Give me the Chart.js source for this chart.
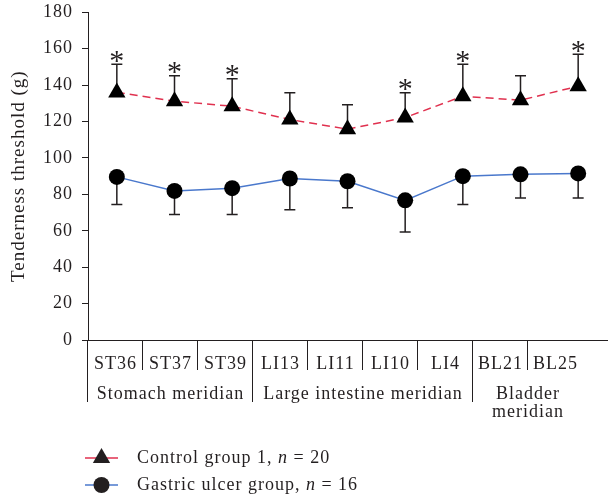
<!DOCTYPE html>
<html>
<head>
<meta charset="UTF-8">
<title>Tenderness threshold</title>
<script src="https://cdn.jsdelivr.net/npm/chart.js"></script>
<style>
  html, body { margin: 0; padding: 0; background: #fff; overflow: hidden; }
  #wrap { width: 611px; height: 498px; }
</style>
</head>
<body>
<div id="wrap"><canvas id="chart"></canvas></div>
<script>
// values (g)
const points = ['ST36', 'ST37', 'ST39', 'LI13', 'LI11', 'LI10', 'LI4', 'BL21', 'BL25'];
const groupNames = [['Stomach meridian'], ['Large intestine meridian'], ['Bladder', 'meridian']];
const groupSizes = [3, 4, 2];
const controlMean = [136, 131.2, 128.4, 121.1, 115.8, 122.2, 133.9, 131.7, 139.4];
const controlSD = [15.4, 13.9, 15.1, 14.7, 13.4, 13.6, 17.6, 13.4, 17.6];
const ulcerMean = [89.6, 81.9, 83.4, 88.7, 87.2, 76.7, 90, 91, 91.5];
const ulcerSD = [15.2, 12.9, 14.4, 17.2, 14.5, 17.4, 15.6, 13, 13.5];
const significant = [true, true, true, false, false, true, true, false, true];
const yTicks = [0, 20, 40, 60, 80, 100, 120, 140, 160, 180];

const serif = '"Liberation Serif", "Times New Roman", serif';
const ink = '#231f20';
const red = '#e0314f';
const blue = '#4a78cc';
const cellW = 55;

// wider set to get closer to the original typeface
const spacing = {
  id: 'spacing',
  beforeDraw(chart) { chart.ctx.letterSpacing = '1px'; }
};

// error bars (one-sided) and asterisks, drawn under the markers
const errorBars = {
  id: 'errorBars',
  beforeDatasetsDraw(chart) {
    const { ctx, scales: { x, y } } = chart;
    ctx.save();
    ctx.strokeStyle = ink;
    ctx.lineWidth = 1.5;
    points.forEach((p, i) => {
      const px = x.getPixelForValue(i);
      const top = y.getPixelForValue(controlMean[i] + controlSD[i]);
      const bot = y.getPixelForValue(ulcerMean[i] - ulcerSD[i]);
      ctx.beginPath();
      ctx.moveTo(px, y.getPixelForValue(controlMean[i]));
      ctx.lineTo(px, top);
      ctx.moveTo(px - 5.5, top);
      ctx.lineTo(px + 5.5, top);
      ctx.moveTo(px, y.getPixelForValue(ulcerMean[i]));
      ctx.lineTo(px, bot);
      ctx.moveTo(px - 5.5, bot);
      ctx.lineTo(px + 5.5, bot);
      ctx.stroke();
      if (significant[i]) {
        ctx.font = '30px ' + serif;
        ctx.letterSpacing = '0px';
        ctx.fillStyle = ink;
        ctx.textAlign = 'center';
        ctx.textBaseline = 'alphabetic';
        const m = ctx.measureText('*');
        const yc = top - 8;
        ctx.fillText('*', px, yc + (m.actualBoundingBoxAscent - m.actualBoundingBoxDescent) / 2);
      }
    });
    ctx.restore();
  }
};

// category table under the axis + legend
const tableAndLegend = {
  id: 'tableAndLegend',
  afterDraw(chart) {
    const { ctx, chartArea: { left, bottom } } = chart;
    ctx.save();
    ctx.letterSpacing = '1px';
    ctx.strokeStyle = ink;
    ctx.fillStyle = ink;
    ctx.lineWidth = 1;
    ctx.font = '18px ' + serif;
    ctx.textAlign = 'center';
    ctx.textBaseline = 'middle';

    const groupStarts = [];
    let acc = 0;
    groupSizes.forEach(n => { groupStarts.push(acc); acc += n; });

    for (let i = 0; i < points.length; i++) {
      const lx = Math.round(left + i * cellW) - 0.5;
      const isGroup = groupStarts.includes(i);
      ctx.beginPath();
      ctx.moveTo(lx, bottom);
      ctx.lineTo(lx, bottom + (isGroup ? 62 : 30));
      ctx.stroke();
      ctx.fillText(points[i], left + (i + 0.5) * cellW, bottom + 24);
    }
    groupNames.forEach((lines, g) => {
      const cx = left + (groupStarts[g] + groupSizes[g] / 2) * cellW;
      lines.forEach((t, k) => ctx.fillText(t, cx, bottom + 54 + k * 18));
    });

    // legend
    const items = [
      { ds: chart.data.datasets[0], text: ['Control group 1, ', 'n', ' = 20'] },
      { ds: chart.data.datasets[1], text: ['Gastric ulcer group, ', 'n', ' = 16'] }
    ];
    items.forEach((it, k) => {
      const ly = bottom + 118 + k * 27;
      ctx.beginPath();
      ctx.strokeStyle = it.ds.borderColor;
      ctx.lineWidth = 1.5;
      ctx.moveTo(left - 3, ly);
      ctx.lineTo(left + 30, ly);
      ctx.stroke();
      Chart.helpers.drawPoint(ctx, {
        pointStyle: it.ds.pointStyle,
        radius: it.ds.pointRadius,
        borderWidth: 0
      }, left + 13.5, ly);
      ctx.fillStyle = ink;
      let tx = left + 49;
      ctx.textAlign = 'left';
      it.text.forEach((s, j) => {
        ctx.font = (j === 1 ? 'italic ' : '') + '18px ' + serif;
        ctx.fillText(s, tx, ly);
        tx += ctx.measureText(s).width;
      });
    });
    ctx.restore();
  }
};

new Chart(document.getElementById('chart'), {
  type: 'line',
  data: {
    labels: points,
    datasets: [
      {
        label: 'Control group 1, n = 20',
        data: controlMean,
        borderColor: red,
        borderWidth: 1.5,
        borderDash: [8, 5],
        pointStyle: 'triangle',
        pointRadius: 10,
        pointBackgroundColor: '#000',
        pointBorderWidth: 0,
        tension: 0
      },
      {
        label: 'Gastric ulcer group, n = 16',
        data: ulcerMean,
        borderColor: blue,
        borderWidth: 1.5,
        pointStyle: 'circle',
        pointRadius: 8,
        pointBackgroundColor: '#000',
        pointBorderWidth: 0,
        tension: 0
      }
    ]
  },
  options: {
    responsive: true,
    maintainAspectRatio: false,
    animation: false,
    events: [],
    layout: { autoPadding: false, padding: { top: 0, right: 4, left: 0, bottom: 0 } },
    plugins: { legend: { display: false }, tooltip: { enabled: false } },
    scales: {
      x: {
        offset: true,
        grid: { display: false },
        ticks: { display: false },
        border: { color: ink, width: 1 },
        afterFit(scale) {
          scale.height = 158;
          scale.paddingLeft = 0;
          scale.paddingRight = 0;
        }
      },
      y: {
        min: 0,
        max: 180,
        afterBuildTicks(scale) { scale.ticks = yTicks.map(v => ({ value: v })); },
        afterFit(scale) {
          scale.width = 88;
          scale.paddingTop = 12.3;
          scale.paddingBottom = 0;
        },
        grid: { drawOnChartArea: false, drawTicks: true, tickLength: 6, color: ink },
        border: { color: ink, width: 1 },
        ticks: { color: ink, padding: 9, font: { family: serif, size: 18 } },
        title: {
          display: true,
          text: 'Tenderness threshold (g)',
          color: ink,
          padding: { top: 8 },
          font: { family: serif, size: 19 }
        }
      }
    }
  },
  plugins: [spacing, errorBars, tableAndLegend]
});
</script>
</body>
</html>
